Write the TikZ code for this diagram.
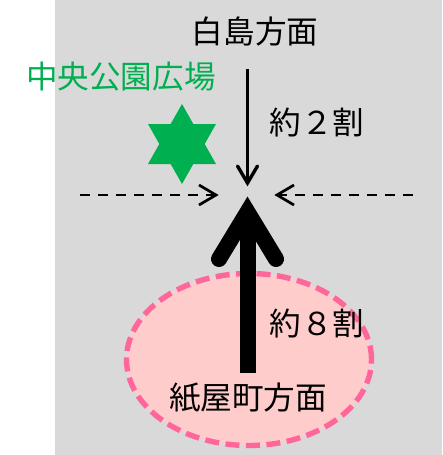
\documentclass[tikz,border=0pt]{standalone}
\usepackage{fontspec}
\usetikzlibrary{shapes.geometric}
\setmainfont{Noto Sans CJK JP}
\definecolor{panelgray}{HTML}{D9D9D9}
\definecolor{plaza}{HTML}{00B050}
\definecolor{zonefill}{HTML}{FFCCCC}
\definecolor{zoneline}{HTML}{FF6699}
\tikzset{
  label text/.style={inner sep=0pt,font=\fontsize{31.6}{32}\selectfont,text=black},
  plaza text/.style={inner sep=0pt,font=\fontsize{31.6}{32}\selectfont,text=plaza},
  heavy arrow/.style={line width=16,line cap=butt,line join=miter},
  heavy head/.style={line width=16,line cap=round,line join=miter,miter limit=10},
  thin arrow/.style={line width=3.4,line cap=butt},
  thin head/.style={line width=3.4,line cap=round,line join=miter,miter limit=10},
  cross flow/.style={line width=2.7,dash pattern=on 10pt off 8pt},
  cross head/.style={line width=2.7,line join=miter,miter limit=10},
}
\begin{document}
\begin{tikzpicture}[x=1pt,y=-1pt]
\useasboundingbox (0,0) rectangle (442,455);
\fill[panelgray] (55,0) rectangle (442,455);
% district ellipse
\node[draw=zoneline,fill=zonefill,line width=5.4,dash pattern=on 14pt off 6.5pt,ellipse,minimum width=245,minimum height=172,inner sep=0pt] (zone) at (249,359.5) {};
% star
\fill[plaza] (182,104) -- (216,164) -- (148,164) -- cycle;
\fill[plaza] (182,184) -- (216,124) -- (148,124) -- cycle;
% coordinates
\coordinate (thinstart) at (247.5,69);
\coordinate (thinend) at (247.5,183);
\coordinate (thinL) at (237.5,166);
\coordinate (thinR) at (257.5,166);
\coordinate (heavystart) at (247.5,373);
\coordinate (heavyend) at (247.5,212);
\coordinate (heavyL) at (219,259);
\coordinate (heavyR) at (276,259);
\coordinate (leftstart) at (80,195);
\coordinate (lefttip) at (216,195);
\coordinate (leftA) at (199,185);
\coordinate (leftB) at (199,205);
\coordinate (rightstart) at (412.5,195);
\coordinate (righttip) at (277,195);
\coordinate (rightA) at (294,185);
\coordinate (rightB) at (294,205);
% arrows
\draw[thin arrow] (thinstart) -- (thinend);
\draw[thin head] (thinL) -- (thinend) -- (thinR);
\draw[heavy arrow] (heavystart) -- (heavyend);
\draw[heavy head] (heavyL) -- (heavyend) -- (heavyR);
\draw[cross flow] (leftstart) -- (lefttip);
\draw[cross head] (leftA) -- (lefttip) -- (leftB);
\draw[cross flow] (rightstart) -- (righttip);
\draw[cross head] (rightA) -- (righttip) -- (rightB);
% text
\node[label text] (north) at (255,31) {白島方面};
\node[plaza text] (park) at (121,77) {中央公園広場};
\node[label text] (two) at (317,123) {約２割};
\node[label text] (eight) at (317,324) {約８割};
\node[label text] (south) at (248,398) {紙屋町方面};
\end{tikzpicture}
\end{document}
